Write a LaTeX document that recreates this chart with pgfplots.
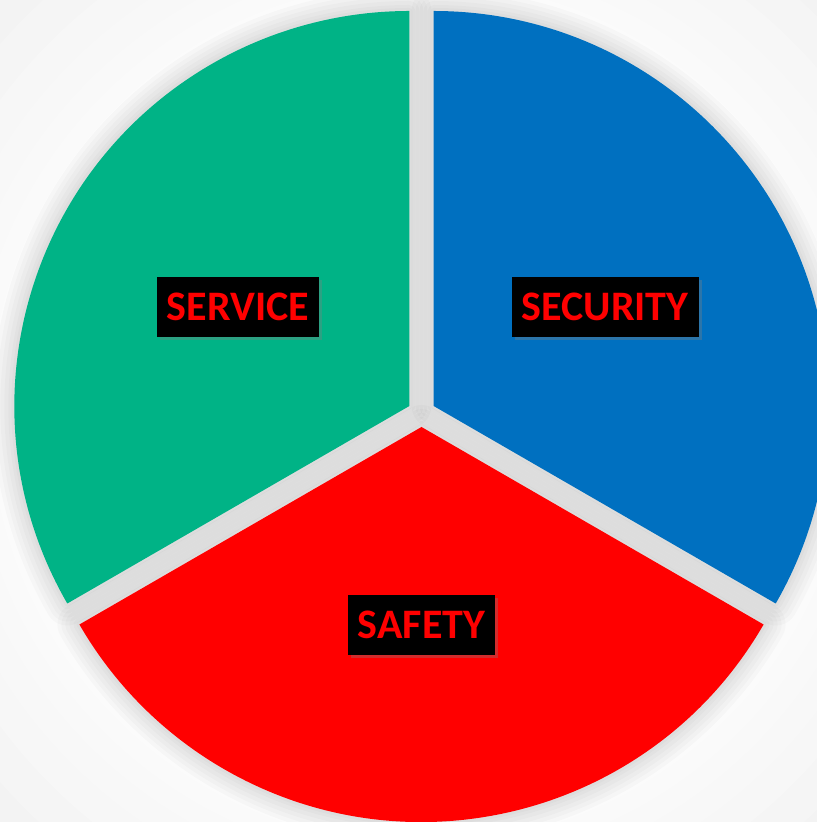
\documentclass[border=0pt]{standalone}
\usepackage{pgfplots}
\pgfplotsset{compat=1.18}
\usepackage{pgfplotstable}
\usepackage{fontspec}
\setmainfont{Carlito}
\usetikzlibrary{shadows}
\definecolor{secblue}{RGB}{0,112,192}
\definecolor{safred}{RGB}{255,0,0}
\definecolor{sergreen}{RGB}{0,179,134}
\definecolor{bggray}{RGB}{240,240,240}

\pgfplotstableread{
label value color
SECURITY 1 secblue
SAFETY 1 safred
SERVICE 1 sergreen
}\piedata

\begin{document}
\begin{tikzpicture}
\begin{axis}[at={(0,0)}, anchor=south west, width=817bp, height=822bp,
  scale only axis, xmin=0, xmax=817, ymin=0, ymax=822, hide axis, clip=true]
\pgfplotsextra{
 \def\cx{421.5}\def\cy{409}\def\R{395}\def\D{14}\def\L{198}
 \fill[bggray] (axis cs:0,0) rectangle (axis cs:817,822);
 \foreach \rr in {600,560,525,495,470,450,432,418}{\fill[white,opacity=0.2] (axis cs:\cx,\cy) circle[radius=\rr bp];}
 \pgfplotstablegetrowsof{\piedata}\pgfmathtruncatemacro\nrows{\pgfplotsretval-1}
 \gdef\total{0}
 \foreach \i in {0,...,\nrows}{\pgfplotstablegetelem{\i}{value}\of\piedata\pgfmathparse{\total+\pgfplotsretval}\xdef\total{\pgfmathresult}}
 % pass 1: soft shadows
 \gdef\astart{90}
 \foreach \i in {0,...,\nrows}{
   \pgfplotstablegetelem{\i}{value}\of\piedata
   \pgfmathsetmacro\aend{\astart-360*\pgfplotsretval/\total}
   \pgfmathsetmacro\amid{(\astart+\aend)/2}
   \pgfmathsetmacro\ox{\cx+\D*cos(\amid)}
   \pgfmathsetmacro\oy{\cy+\D*sin(\amid)}
   \foreach \w in {44,36,28,20,12,6}{
     \draw[black,opacity=0.02,line width=\w bp,line join=round] (axis cs:\ox,\oy) -- ++(\astart:\R bp) arc[start angle=\astart,end angle=\aend,radius=\R bp] -- cycle;}
   \xdef\astart{\aend}
 }
 % pass 2: slices
 \gdef\astart{90}
 \foreach \i in {0,...,\nrows}{
   \pgfplotstablegetelem{\i}{color}\of\piedata\let\col\pgfplotsretval
   \pgfplotstablegetelem{\i}{value}\of\piedata
   \pgfmathsetmacro\aend{\astart-360*\pgfplotsretval/\total}
   \pgfmathsetmacro\amid{(\astart+\aend)/2}
   \pgfmathsetmacro\ox{\cx+\D*cos(\amid)}
   \pgfmathsetmacro\oy{\cy+\D*sin(\amid)}
   \fill[fill=\col] (axis cs:\ox,\oy) -- ++(\astart:\R bp) arc[start angle=\astart,end angle=\aend,radius=\R bp] -- cycle;
   \xdef\astart{\aend}
 }
 % pass 3: labels
 \gdef\astart{90}
 \foreach \i in {0,...,\nrows}{
   \pgfplotstablegetelem{\i}{label}\of\piedata\let\lab\pgfplotsretval
   \pgfplotstablegetelem{\i}{value}\of\piedata
   \pgfmathsetmacro\aend{\astart-360*\pgfplotsretval/\total}
   \pgfmathsetmacro\amid{(\astart+\aend)/2}
   \pgfmathsetmacro\lx{\cx+(\D+\L)*cos(\amid)}
   \pgfmathsetmacro\ly{\cy+(\D+\L)*sin(\amid)}
   \node[fill=black, text=safred, font=\bfseries\fontsize{42bp}{50bp}\selectfont,
     minimum height=60bp, inner xsep=10bp, inner ysep=0pt,
     drop shadow={shadow xshift=3bp, shadow yshift=-3bp, opacity=0.35}]
     at (axis cs:\lx,\ly) {\lab};
   \xdef\astart{\aend}
 }
}
\end{axis}
\pgfresetboundingbox
\useasboundingbox (0,0) rectangle (817bp,822bp);
\end{tikzpicture}
\end{document}
